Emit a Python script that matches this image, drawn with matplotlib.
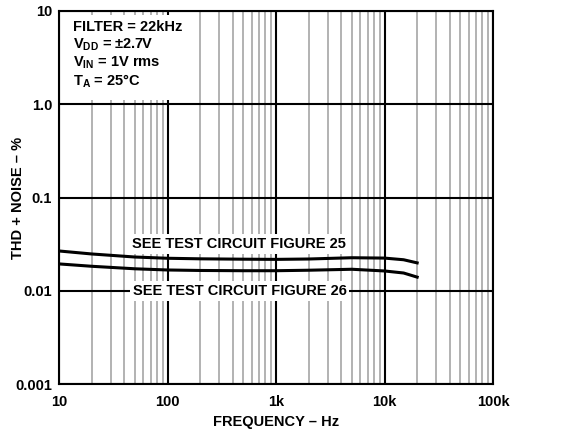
import matplotlib
matplotlib.use("Agg")
import matplotlib.pyplot as plt
from matplotlib.patches import Rectangle
from matplotlib.ticker import FixedLocator, NullFormatter

plt.rcParams['font.family'] = ['Liberation Sans', 'DejaVu Sans']
plt.rcParams['font.weight'] = 'bold'
plt.rcParams['mathtext.fontset'] = 'custom'
plt.rcParams['mathtext.rm'] = 'Liberation Sans:bold'
plt.rcParams['mathtext.bf'] = 'Liberation Sans:bold'
plt.rcParams['mathtext.it'] = 'Liberation Sans:bold'

# data
freq = [10, 20, 50, 100, 200, 500, 1000, 2000, 5000, 10000, 15000, 20000]
thd_fig25 = [0.0267, 0.0248, 0.0230, 0.0223, 0.0220, 0.0218, 0.0217, 0.0219, 0.0226, 0.0224, 0.0215, 0.0199]
thd_fig26 = [0.0194, 0.0183, 0.0172, 0.0167, 0.0165, 0.0164, 0.0164, 0.0166, 0.0170, 0.0163, 0.0155, 0.0140]

xticks = [10, 100, 1000, 10000, 100000]
xticklabels = ["10", "100", "1k", "10k", "100k"]
yticks = [0.001, 0.01, 0.1, 1, 10]
yticklabels = ["0.001", "0.01", "0.1", "1.0", "10"]

fs = 10.5

fig = plt.figure(figsize=(5.63, 4.34), dpi=100)
ax = fig.add_axes([59/563, 50/434, 434/563, 373/434])

ax.set_xscale('log')
ax.set_yscale('log')
ax.set_xlim(10, 100000)
ax.set_ylim(0.001, 10)

ax.plot(freq, thd_fig25, color='black', lw=2.2, zorder=3)
ax.plot(freq, thd_fig26, color='black', lw=2.2, zorder=3)

ax.xaxis.set_major_locator(FixedLocator(xticks))
ax.set_xticklabels(xticklabels)
ax.yaxis.set_major_locator(FixedLocator(yticks))
ax.set_yticklabels(yticklabels)
minor_x = [m * d for d in [10, 100, 1000, 10000] for m in range(2, 10)]
ax.xaxis.set_minor_locator(FixedLocator(minor_x))
ax.xaxis.set_minor_formatter(NullFormatter())
ax.yaxis.set_minor_locator(FixedLocator([]))

ax.grid(which='major', color='black', lw=1.5)
ax.grid(which='minor', axis='x', color='#a6a6a6', lw=1.2)
ax.tick_params(which='both', length=0, labelsize=fs)
ax.tick_params(axis='y', pad=5)
ax.tick_params(axis='x', pad=8)
for s in ax.spines.values():
    s.set_linewidth(1.5)
    s.set_zorder(5)

fig.text((59 + 434 / 2) / 563, 12 / 434, "FREQUENCY – Hz", fontsize=fs,
         fontweight='bold', ha='center', va='center')
fig.text(18 / 563, (50 + 373 / 2) / 434, "THD + NOISE – %", fontsize=fs,
         fontweight='bold', ha='center', va='center', rotation=90)

# white panel behind the conditions text
ax.add_patch(Rectangle((0.006, 0.761), 0.287, 0.228, transform=ax.transAxes,
                       facecolor='white', edgecolor='none', zorder=2.5))
info = ("FILTER = 22kHz\n"
        "V$_{\\mathregular{DD}}$ = ±2.7V\n"
        "V$_{\\mathregular{IN}}$ = 1V rms\n"
        "T$_{\\mathregular{A}}$ = 25°C")
ax.text(0.033, 0.975, info, transform=ax.transAxes, fontsize=fs, fontweight='bold',
        va='top', ha='left', linespacing=1.15, zorder=4)

ax.text(0.414, 0.375, "SEE TEST CIRCUIT FIGURE 25", transform=ax.transAxes,
        fontsize=fs, fontweight='bold', ha='center', va='center',
        bbox=dict(facecolor='white', edgecolor='none', pad=2), zorder=4)
ax.text(0.416, 0.249, "SEE TEST CIRCUIT FIGURE 26", transform=ax.transAxes,
        fontsize=fs, fontweight='bold', ha='center', va='center',
        bbox=dict(facecolor='white', edgecolor='none', pad=2), zorder=4)

fig.savefig("out.png", dpi=100)
